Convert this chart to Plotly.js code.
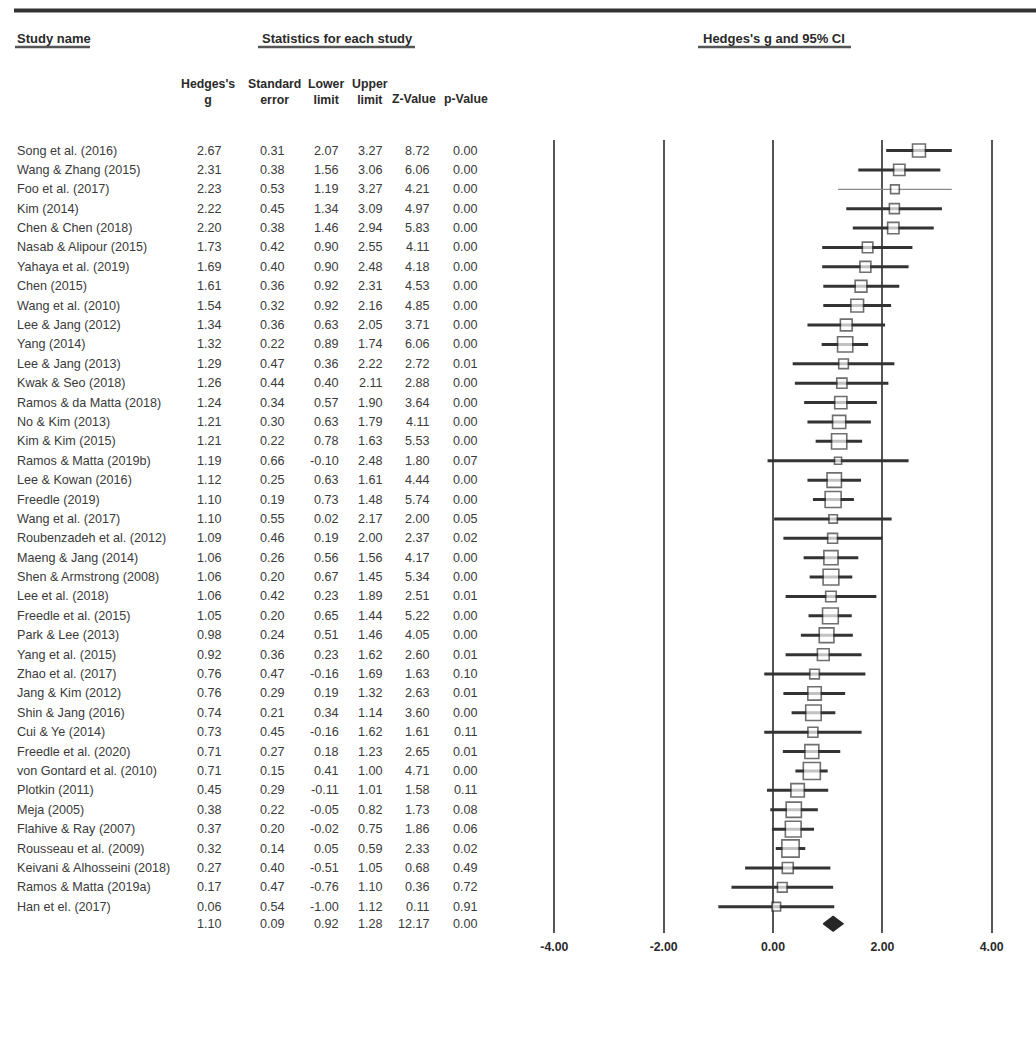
<!DOCTYPE html>
<html>
<head>
<meta charset="utf-8">
<script src="https://cdn.plot.ly/plotly-3.0.1.min.js"></script>
<style>
html,body{margin:0;padding:0;background:#fff;}
#chart{width:1036px;height:1046px;}
</style>
</head>
<body>
<div id="chart"></div>
<script>
// ---------------- data ----------------
const studies = [
  "Song et al. (2016)", "Wang & Zhang (2015)", "Foo et al. (2017)", "Kim (2014)",
  "Chen & Chen (2018)", "Nasab & Alipour (2015)", "Yahaya et al. (2019)", "Chen (2015)",
  "Wang et al. (2010)", "Lee & Jang (2012)", "Yang (2014)", "Lee & Jang (2013)",
  "Kwak & Seo (2018)", "Ramos & da Matta (2018)", "No & Kim (2013)", "Kim & Kim (2015)",
  "Ramos & Matta (2019b)", "Lee & Kowan (2016)", "Freedle (2019)", "Wang et al. (2017)",
  "Roubenzadeh et al. (2012)", "Maeng & Jang (2014)", "Shen & Armstrong (2008)", "Lee et al. (2018)",
  "Freedle et al. (2015)", "Park & Lee (2013)", "Yang et al. (2015)", "Zhao et al. (2017)",
  "Jang & Kim (2012)", "Shin & Jang (2016)", "Cui & Ye (2014)", "Freedle et al. (2020)",
  "von Gontard et al. (2010)", "Plotkin (2011)", "Meja (2005)", "Flahive & Ray (2007)",
  "Rousseau et al. (2009)", "Keivani & Alhosseini (2018)", "Ramos & Matta (2019a)", "Han et el. (2017)"
];
const hedgesG = [2.67,2.31,2.23,2.22,2.20,1.73,1.69,1.61,1.54,1.34,1.32,1.29,1.26,1.24,1.21,1.21,1.19,1.12,1.10,1.10,
                 1.09,1.06,1.06,1.06,1.05,0.98,0.92,0.76,0.76,0.74,0.73,0.71,0.71,0.45,0.38,0.37,0.32,0.27,0.17,0.06];
const stdErr  = [0.31,0.38,0.53,0.45,0.38,0.42,0.40,0.36,0.32,0.36,0.22,0.47,0.44,0.34,0.30,0.22,0.66,0.25,0.19,0.55,
                 0.46,0.26,0.20,0.42,0.20,0.24,0.36,0.47,0.29,0.21,0.45,0.27,0.15,0.29,0.22,0.20,0.14,0.40,0.47,0.54];
const lowerLimit = [2.07,1.56,1.19,1.34,1.46,0.90,0.90,0.92,0.92,0.63,0.89,0.36,0.40,0.57,0.63,0.78,-0.10,0.63,0.73,0.02,
                    0.19,0.56,0.67,0.23,0.65,0.51,0.23,-0.16,0.19,0.34,-0.16,0.18,0.41,-0.11,-0.05,-0.02,0.05,-0.51,-0.76,-1.00];
const upperLimit = [3.27,3.06,3.27,3.09,2.94,2.55,2.48,2.31,2.16,2.05,1.74,2.22,2.11,1.90,1.79,1.63,2.48,1.61,1.48,2.17,
                    2.00,1.56,1.45,1.89,1.44,1.46,1.62,1.69,1.32,1.14,1.62,1.23,1.00,1.01,0.82,0.75,0.59,1.05,1.10,1.12];
const zValue = [8.72,6.06,4.21,4.97,5.83,4.11,4.18,4.53,4.85,3.71,6.06,2.72,2.88,3.64,4.11,5.53,1.80,4.44,5.74,2.00,
                2.37,4.17,5.34,2.51,5.22,4.05,2.60,1.63,2.63,3.60,1.61,2.65,4.71,1.58,1.73,1.86,2.33,0.68,0.36,0.11];
const pValue = [0.00,0.00,0.00,0.00,0.00,0.00,0.00,0.00,0.00,0.00,0.00,0.01,0.00,0.00,0.00,0.00,0.07,0.00,0.00,0.05,
                0.02,0.00,0.00,0.01,0.00,0.00,0.01,0.10,0.01,0.00,0.11,0.01,0.00,0.11,0.08,0.06,0.02,0.49,0.72,0.91];
const summary = {g:1.10, se:0.09, lower:0.92, upper:1.28, z:12.17, p:0.00};
const xTickVals = [-4,-2,0,2,4];
const xTickText = ["-4.00","-2.00","0.00","2.00","4.00"];
const thinStudies = ["Foo et al. (2017)"];

// ---------------- layout helpers ----------------
const W = 1036, H = 1046;
const FONT = "Liberation Sans, Arial, sans-serif";
const TXT = "#3a3a3a";
const BODY = 12.6;
const px = v => v / W;
const py = v => 1 - v / H;
const rows = studies.map((_, i) => i);
const summaryRow = studies.length - 0.12;

function idx(filterThin){
  return rows.filter(i => thinStudies.includes(studies[i]) === filterThin);
}
function pick(arr, ids){ return ids.map(i => arr[i]); }
function markerSize(s){ return 6.3 / Math.sqrt(s*s + 0.092) - 1.6; }

function studyTrace(ids, thickness, color){
  return {
    type: 'scatter', mode: 'markers',
    x: pick(hedgesG, ids), y: pick(rows, ids),
    error_x: {type:'data', symmetric:false,
      array: ids.map(i => upperLimit[i] - hedgesG[i]),
      arrayminus: ids.map(i => hedgesG[i] - lowerLimit[i]),
      thickness: thickness, width: 0, color: color},
    marker: {symbol:'square', color:'#ffffff', size: ids.map(i => markerSize(stdErr[i])),
      line:{color:'#333333', width:1.6}},
    hoverinfo:'skip', showlegend:false
  };
}

const traces = [
  studyTrace(idx(false), 3, '#333333'),
  studyTrace(idx(true), 1.2, '#8a8a8a'),
  {
    type:'scatter', mode:'lines', fill:'toself',
    x: [summary.lower, summary.g, summary.upper, summary.g, summary.lower],
    y: [summaryRow, summaryRow - 0.38, summaryRow, summaryRow + 0.38, summaryRow],
    fillcolor:'#262626', line:{color:'#262626', width:1.5},
    hoverinfo:'skip', showlegend:false
  }
];

// ---------------- table text ----------------
const annotations = [];
function ann(text, x, y, xanchor){
  annotations.push({
    text: text, x: px(x), y: y, xref:'paper', yref:'y',
    xanchor: xanchor, yanchor:'middle', showarrow:false,
    font:{family:FONT, size:BODY, color:TXT}
  });
}
const colRight = [224, 287, 341, 385, 432, 480];
rows.forEach(i => {
  ann(studies[i], 15, i, 'left');
  [hedgesG[i], stdErr[i], lowerLimit[i], upperLimit[i], zValue[i], pValue[i]].forEach((v, c) => {
    ann(v.toFixed(2), colRight[c], i, 'right');
  });
});
[summary.g, summary.se, summary.lower, summary.upper, summary.z, summary.p].forEach((v, c) => {
  ann(v.toFixed(2), colRight[c], summaryRow, 'right');
});

// headers
function head(text, x, y, xanchor, size){
  annotations.push({
    text: text, x: px(x), y: py(y), xref:'paper', yref:'paper',
    xanchor: xanchor, yanchor:'middle', showarrow:false, align:'center',
    font:{family:FONT, size:size, color:'#2a2a2a', weight:'bold'}
  });
}
head("Study name", 15, 38, 'left', 13);
head("Statistics for each study", 337, 38, 'center', 13);
head("Hedges's g and 95% CI", 774, 38, 'center', 13);
head("Hedges's<br>g", 208, 92, 'center', 12.3);
head("Standard<br>error", 274, 92, 'center', 12.3);
head("Lower<br>limit", 326, 92, 'center', 12.3);
head("Upper<br>limit", 370, 92, 'center', 12.3);
head("Z-Value", 414, 99, 'center', 12.3);
head("p-Value", 466, 99, 'center', 12.3);

const shapes = [
  {type:'line', xref:'paper', yref:'paper', x0:px(14), x1:1, y0:py(10.5), y1:py(10.5), line:{color:'#333', width:4}},
  {type:'line', xref:'paper', yref:'paper', x0:px(15), x1:px(90), y0:py(47), y1:py(47), line:{color:'#555', width:2.5}},
  {type:'line', xref:'paper', yref:'paper', x0:px(258), x1:px(415), y0:py(47), y1:py(47), line:{color:'#555', width:2.5}},
  {type:'line', xref:'paper', yref:'paper', x0:px(698), x1:px(851), y0:py(47), y1:py(47), line:{color:'#555', width:2.5}}
];

// axis mapping: -4 at px 554.3, 4 at px 991.7
const unit = (991.7 - 554.3) / 8;
const zeroPx = 773;
const plotTop = 140, plotBot = 933;
const rowPx = (906.7 - 150.5) / (studies.length - 1);

const layout = {
  width: W, height: H,
  margin:{l:0, r:0, t:0, b:0, pad:0},
  paper_bgcolor:'#ffffff', plot_bgcolor:'#ffffff',
  xaxis:{
    domain:[0,1],
    range:[-zeroPx/unit, (W - zeroPx)/unit],
    tickvals: xTickVals, ticktext: xTickText,
    showgrid:true, gridcolor:'#555555', gridwidth:2,
    zeroline:false, showline:false, ticks:'',
    tickfont:{family:FONT, size:12.3, color:'#2a2a2a', weight:'bold'},
    ticklabelstandoff: 5,
    fixedrange:true
  },
  yaxis:{
    domain:[py(plotBot), py(plotTop)],
    range:[(plotBot - 150.5)/rowPx, -(150.5 - plotTop)/rowPx],
    showgrid:false, zeroline:false, showline:false, showticklabels:false, ticks:'',
    fixedrange:true
  },
  annotations: annotations,
  shapes: shapes,
  showlegend:false
};

Plotly.newPlot('chart', traces, layout, {displayModeBar:false, staticPlot:true});
</script>
</body>
</html>
